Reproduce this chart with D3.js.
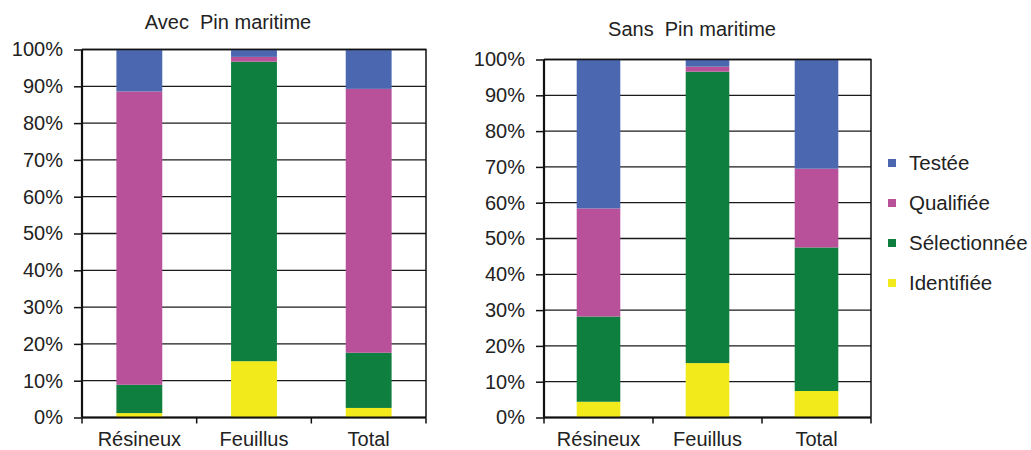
<!DOCTYPE html>
<html>
<head>
<meta charset="utf-8">
<script src="https://cdn.jsdelivr.net/npm/d3@7"></script>
<style>
body { margin: 0; background: #fff; }
text { font-family: "Liberation Sans", Arial, sans-serif; fill: #222; }
</style>
</head>
<body>
<div id="chart"></div>
<script>
const categories = ['Résineux', 'Feuillus', 'Total'];
const seriesNames = ['Identifiée', 'Sélectionnée', 'Qualifiée', 'Testée'];
const seriesColors = ['#f2ea1a', '#0f7f3f', '#b8509a', '#4a67b0'];
const yTicks = [0, 10, 20, 30, 40, 50, 60, 70, 80, 90, 100];

// Avec Pin maritime (%)
const avecIdentifiee = [1.2, 15.3, 2.6];
const avecSelectionnee = [7.7, 81.4, 15.0];
const avecQualifiee = [79.7, 1.3, 71.7];
const avecTestee = [11.4, 2.0, 10.7];

// Sans Pin maritime (%)
const sansIdentifiee = [4.4, 15.2, 7.4];
const sansSelectionnee = [23.8, 81.4, 40.1];
const sansQualifiee = [30.2, 1.4, 22.0];
const sansTestee = [41.6, 2.0, 30.5];

const width = 1031, height = 450;

const svg = d3.select('#chart')
    .append('svg')
    .attr('width', width)
    .attr('height', height);

function rowsOf(id, se, qu, te){
    return categories.map((c, i) => ({
        cat: c,
        'Identifiée': id[i],
        'Sélectionnée': se[i],
        'Qualifiée': qu[i],
        'Testée': te[i]
    }));
}

function drawChart(rows, box, title, titleX, titleY){
    let g = svg.append('g');

    let scaleX = d3.scaleBand().domain(categories).range([box.left, box.right]).paddingInner(0).paddingOuter(0);
    let scaleY = d3.scaleLinear().domain([0, 100]).range([box.bottom, box.top]);

    // gridlines
    g.selectAll('.grid')
        .data(yTicks)
        .enter()
        .append('line')
        .attr('x1', box.left)
        .attr('x2', box.right)
        .attr('y1', d => scaleY(d))
        .attr('y2', d => scaleY(d))
        .style('stroke', '#1a1a1a')
        .style('stroke-width', 1.3);

    let stacked = d3.stack().keys(seriesNames)(rows);
    let bw = scaleX.bandwidth() * 0.4;

    g.selectAll('.layer')
        .data(stacked)
        .enter()
        .append('g')
        .style('fill', (d, i) => seriesColors[i])
        .selectAll('rect')
        .data(d => d)
        .enter()
        .append('rect')
        .attr('x', d => scaleX(d.data.cat) + (scaleX.bandwidth() - bw) / 2)
        .attr('width', bw)
        .attr('y', d => scaleY(d[1]))
        .attr('height', d => scaleY(d[0]) - scaleY(d[1]));

    // right and top border
    g.append('path')
        .attr('d', `M${box.left},${box.top}H${box.right}V${box.bottom}`)
        .style('fill', 'none')
        .style('stroke', '#111')
        .style('stroke-width', 1.5);

    let yAxis = d3.axisLeft(scaleY).tickValues(yTicks).tickSize(8).tickPadding(11).tickFormat(d => d + '%');
    let yAxisGroup = g.append('g')
        .attr('transform', 'translate(' + box.left + ',0)')
        .call(yAxis);
    yAxisGroup.selectAll('text').style('font-size', '20px').style('fill', '#222');
    yAxisGroup.selectAll('line').style('stroke', '#111').style('stroke-width', 1.5);
    yAxisGroup.select('.domain').style('stroke', '#111').style('stroke-width', 2.2).attr('d', `M0,${box.top}V${box.bottom}`);

    let xAxis = d3.axisBottom(scaleX).tickSize(0).tickPadding(0).tickFormat(d => d);
    let xAxisGroup = g.append('g')
        .attr('transform', 'translate(0,' + box.bottom + ')')
        .call(xAxis);
    xAxisGroup.select('.domain').style('stroke', '#111').style('stroke-width', 2.2).attr('d', `M${box.left},0H${box.right}`);
    xAxisGroup.selectAll('text')
        .style('font-size', '20px')
        .style('fill', '#222')
        .attr('dy', null)
        .attr('y', 28);

    // category separator ticks
    let bounds = categories.map(c => scaleX(c)).concat([box.right]);
    g.selectAll('.sep')
        .data(bounds)
        .enter()
        .append('line')
        .attr('x1', d => d)
        .attr('x2', d => d)
        .attr('y1', box.bottom)
        .attr('y2', box.bottom + 6)
        .style('stroke', '#111')
        .style('stroke-width', 1.5);

    g.append('text')
        .attr('x', titleX)
        .attr('y', titleY)
        .style('text-anchor', 'middle')
        .style('font-size', '20px')
        .style('white-space', 'pre')
        .text(title);
}

drawChart(rowsOf(avecIdentifiee, avecSelectionnee, avecQualifiee, avecTestee),
    {left: 82, right: 426, top: 49.5, bottom: 417.5}, 'Avec  Pin maritime', 228, 29);

drawChart(rowsOf(sansIdentifiee, sansSelectionnee, sansQualifiee, sansTestee),
    {left: 544, right: 871, top: 59.5, bottom: 417.5}, 'Sans  Pin maritime', 692, 36);

// legend, top entry first
let legendItems = seriesNames.map((n, i) => ({name: n, color: seriesColors[i]})).reverse();
let legend = svg.append('g').attr('transform', 'translate(888,163)');
let items = legend.selectAll('g')
    .data(legendItems)
    .enter()
    .append('g')
    .attr('transform', (d, i) => 'translate(0,' + (i * 40) + ')');
items.append('rect')
    .attr('x', 0)
    .attr('y', -4)
    .attr('width', 8)
    .attr('height', 8)
    .style('fill', d => d.color);
items.append('text')
    .attr('x', 21)
    .attr('y', 7)
    .style('font-size', '20.5px')
    .text(d => d.name);
</script>
</body>
</html>
